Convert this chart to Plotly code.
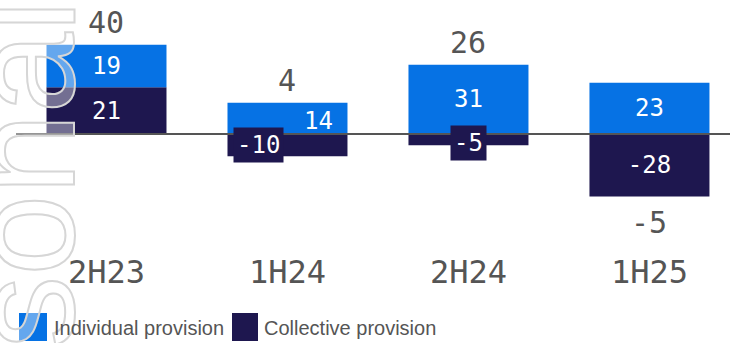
import plotly.graph_objects as go

# ---------------- data ----------------
categories = ["2H23", "1H24", "2H24", "1H25"]
individual = [19, 14, 31, 23]
collective = [21, -10, -5, -28]
totals = [40, 4, 26, -5]
series_names = ["Individual provision", "Collective provision"]
watermark = "Personal"

# ---------------- styles / layout ----------------
W, H = 730, 343
ML, MR, MT = 16, 0, 0
PLOT_BOTTOM = 250
MB = H - PLOT_BOTTOM

BLUE = "#0672e4"
NAVY = "#1e174f"
GREY = "#555555"
MONO = "DejaVu Sans Mono"
SANS = "Liberation Sans, Arial, sans-serif"

PX_PER_UNIT = 2.23
ZERO_PX = 134
y_top = (ZERO_PX - MT) / PX_PER_UNIT
y_bot = -(PLOT_BOTTOM - ZERO_PX) / PX_PER_UNIT


def px_x(px):
    return (px - ML) / (W - ML - MR)


def px_y(py):
    return 1 - (py - MT) / (PLOT_BOTTOM - MT)


# labels that are placed as call-outs instead of centred inside the bar
# key: (series, category index) -> (xshift px, yshift px, boxed)
callouts = {
    ("individual", 1): (31, -3, False),
    ("collective", 1): (-29, 0, True),
    ("collective", 2): (0, -3, True),
}

coll_text = ["" if ("collective", i) in callouts else str(v) for i, v in enumerate(collective)]
ind_text = ["" if ("individual", i) in callouts else str(v) for i, v in enumerate(individual)]

fig = go.Figure()
fig.add_trace(go.Bar(
    x=categories, y=collective, name=series_names[1], marker=dict(color=NAVY, line=dict(width=0)),
    text=coll_text, textposition="inside", insidetextanchor="middle",
    textfont=dict(family=MONO, size=24, color="white"), showlegend=False, hoverinfo="skip",
))
fig.add_trace(go.Bar(
    x=categories, y=individual, name=series_names[0], marker=dict(color=BLUE, line=dict(width=0)),
    text=ind_text, textposition="inside", insidetextanchor="middle",
    textfont=dict(family=MONO, size=24, color="white"), showlegend=False, hoverinfo="skip",
))

annotations = []

# watermark (outlined via post_script)
annotations.append(dict(
    text=watermark, xref="paper", yref="paper", x=px_x(23), y=px_y(288),
    xanchor="center", yanchor="middle", textangle=-90, showarrow=False,
    font=dict(family="Liberation Sans, Arial, sans-serif", size=146, color="rgba(255,255,255,0.38)"),
))

# call-out labels
for (series, i), (dx, dy, boxed) in callouts.items():
    if series == "collective":
        v = collective[i]
        centre = v / 2
        bg = NAVY if boxed else None
    else:
        v = individual[i]
        base = collective[i] if (collective[i] > 0 and v > 0) else 0
        centre = base + v / 2
        bg = None
    a = dict(text=str(v), x=categories[i], y=centre, xref="x", yref="y", showarrow=False,
             xshift=dx, yshift=dy, font=dict(family=MONO, size=24, color="white"),
             xanchor="center", yanchor="middle")
    if bg:
        a.update(bgcolor=bg, borderpad=3)
    annotations.append(a)

# totals
for i, t in enumerate(totals):
    pos = sum(v for v in (individual[i], collective[i]) if v > 0)
    neg = sum(v for v in (individual[i], collective[i]) if v < 0)
    if t >= 0:
        annotations.append(dict(text=str(t), x=categories[i], y=pos, xref="x", yref="y",
                                showarrow=False, yanchor="bottom", yshift=3,
                                font=dict(family=MONO, size=30, color=GREY)))
    else:
        annotations.append(dict(text=str(t), x=categories[i], y=neg, xref="x", yref="y",
                                showarrow=False, yanchor="top", yshift=-7,
                                font=dict(family=MONO, size=30, color=GREY)))

# custom legend
legend_items = [(series_names[0], BLUE, 19, 47, 52), (series_names[1], NAVY, 232, 258, 262)]
shapes = [dict(type="line", xref="paper", yref="y", x0=0, x1=1, y0=0, y1=0,
               line=dict(color=GREY, width=2), layer="above")]
for name, col, x0, x1, tx in legend_items:
    shapes.append(dict(type="rect", xref="paper", yref="paper", x0=px_x(x0), x1=px_x(x1),
                       y0=px_y(341), y1=px_y(313), fillcolor=col, line=dict(width=0), layer="above"))
    annotations.append(dict(text=name, xref="paper", yref="paper", x=px_x(tx), y=px_y(328),
                            xanchor="left", yanchor="middle", showarrow=False,
                            font=dict(family=SANS, size=20, color=GREY)))

fig.update_layout(
    width=W, height=H, margin=dict(l=ML, r=MR, t=MT, b=MB, pad=0),
    barmode="relative", bargap=0.337,
    plot_bgcolor="white", paper_bgcolor="white",
    xaxis=dict(range=[-0.5, 3.445], showgrid=False, zeroline=False, showline=False, ticks="",
               tickfont=dict(family=MONO, size=32, color=GREY), fixedrange=True),
    yaxis=dict(range=[y_bot, y_top], visible=False, showgrid=False, zeroline=False, fixedrange=True),
    shapes=shapes, annotations=annotations, showlegend=False, hovermode=False,
)

post_script = """
(function(){
  document.body.style.margin = '0';
  document.body.style.padding = '0';
  document.body.style.overflow = 'hidden';
  function outline(){
    var gd = document.getElementById('{plot_id}');
    if(!gd) return;
    gd.querySelectorAll('text.annotation-text').forEach(function(t){
      if(t.textContent === 'Personal'){
        t.style.stroke = '#d6d6d6';
        t.style.strokeWidth = '2px';
      }
    });
  }
  outline();
  setTimeout(outline, 30);
  setTimeout(outline, 300);
  var g = document.getElementById('{plot_id}');
  if(g && g.on){ g.on('plotly_afterplot', outline); }
})();
"""

fig.write_html("out.html", post_script=post_script, config={"displayModeBar": False})
